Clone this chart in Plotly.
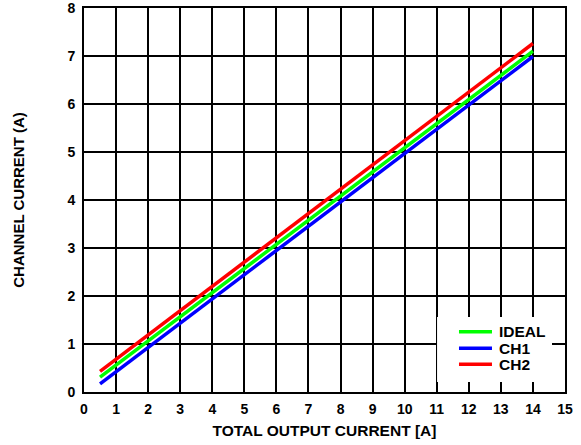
import plotly.graph_objects as go

x_vals = [0.5, 14]
ideal = [0.31, 7.10]
ch1 = [0.17, 6.99]
ch2 = [0.43, 7.26]

x_ticks = list(range(0, 16))
y_ticks = list(range(0, 9))

legend_names = ["IDEAL", "CH1", "CH2"]
legend_colors = ["#00FF00", "#0000FF", "#FF0000"]

FAM = "Liberation Sans, Arial, sans-serif"
tick_font = dict(family=FAM, size=14, color="black", weight="bold")
xtitle_font = dict(family=FAM, size=15.5, color="black", weight="bold")
ytitle_font = dict(family=FAM, size=15, color="black", weight="bold")
leg_font = dict(family=FAM, size=15.5, color="black", weight="bold")

fig = go.Figure()
for name, yv, col in zip(legend_names, [ideal, ch1, ch2], legend_colors):
    fig.add_trace(go.Scatter(x=x_vals, y=yv, mode="lines", name=name,
                             line=dict(color=col, width=3.5), showlegend=False))

# Legend box (manual, to match tight spacing of the reference)
shapes = [dict(type="rect", xref="paper", yref="paper", x0=0.734, x1=0.973, y0=0.026, y1=0.195,
               fillcolor="white", line=dict(width=0), layer="above")]
annotations = []
leg_y = [0.157, 0.1138, 0.0721]
for name, col, yy in zip(legend_names, legend_colors, leg_y):
    shapes.append(dict(type="line", xref="paper", yref="paper", x0=0.7796, x1=0.8482, y0=yy, y1=yy,
                       line=dict(color=col, width=3.5), layer="above"))
    annotations.append(dict(xref="paper", yref="paper", x=0.8628, y=yy, xanchor="left", yanchor="middle",
                            text=name, showarrow=False, font=leg_font, xshift=-2))

fig.update_layout(
    width=581, height=445,
    margin=dict(l=84, r=16, t=8, b=53),
    paper_bgcolor="white", plot_bgcolor="white",
    showlegend=False,
    shapes=shapes, annotations=annotations,
    xaxis=dict(range=[0, 15], tickvals=x_ticks, showgrid=True, gridcolor="black", gridwidth=1.5,
               showline=True, linecolor="black", linewidth=2, mirror=True, zeroline=False,
               ticks="", tickfont=tick_font, automargin=False, ticklabelstandoff=3,
               ticklabeloverflow="allow",
               title=dict(text="TOTAL OUTPUT CURRENT [A]", font=xtitle_font, standoff=9)),
    yaxis=dict(range=[0, 8], tickvals=y_ticks, showgrid=True, gridcolor="black", gridwidth=1.5,
               showline=True, linecolor="black", linewidth=2, mirror=True, zeroline=False,
               ticks="", tickfont=tick_font, ticklabelstandoff=4, automargin=False,
               ticklabeloverflow="allow",
               title=dict(text="CHANNEL CURRENT (A)", font=ytitle_font, standoff=39)),
)

fig.write_html("out.html", config={"displayModeBar": False},
               post_script="document.body.style.margin='0';")
